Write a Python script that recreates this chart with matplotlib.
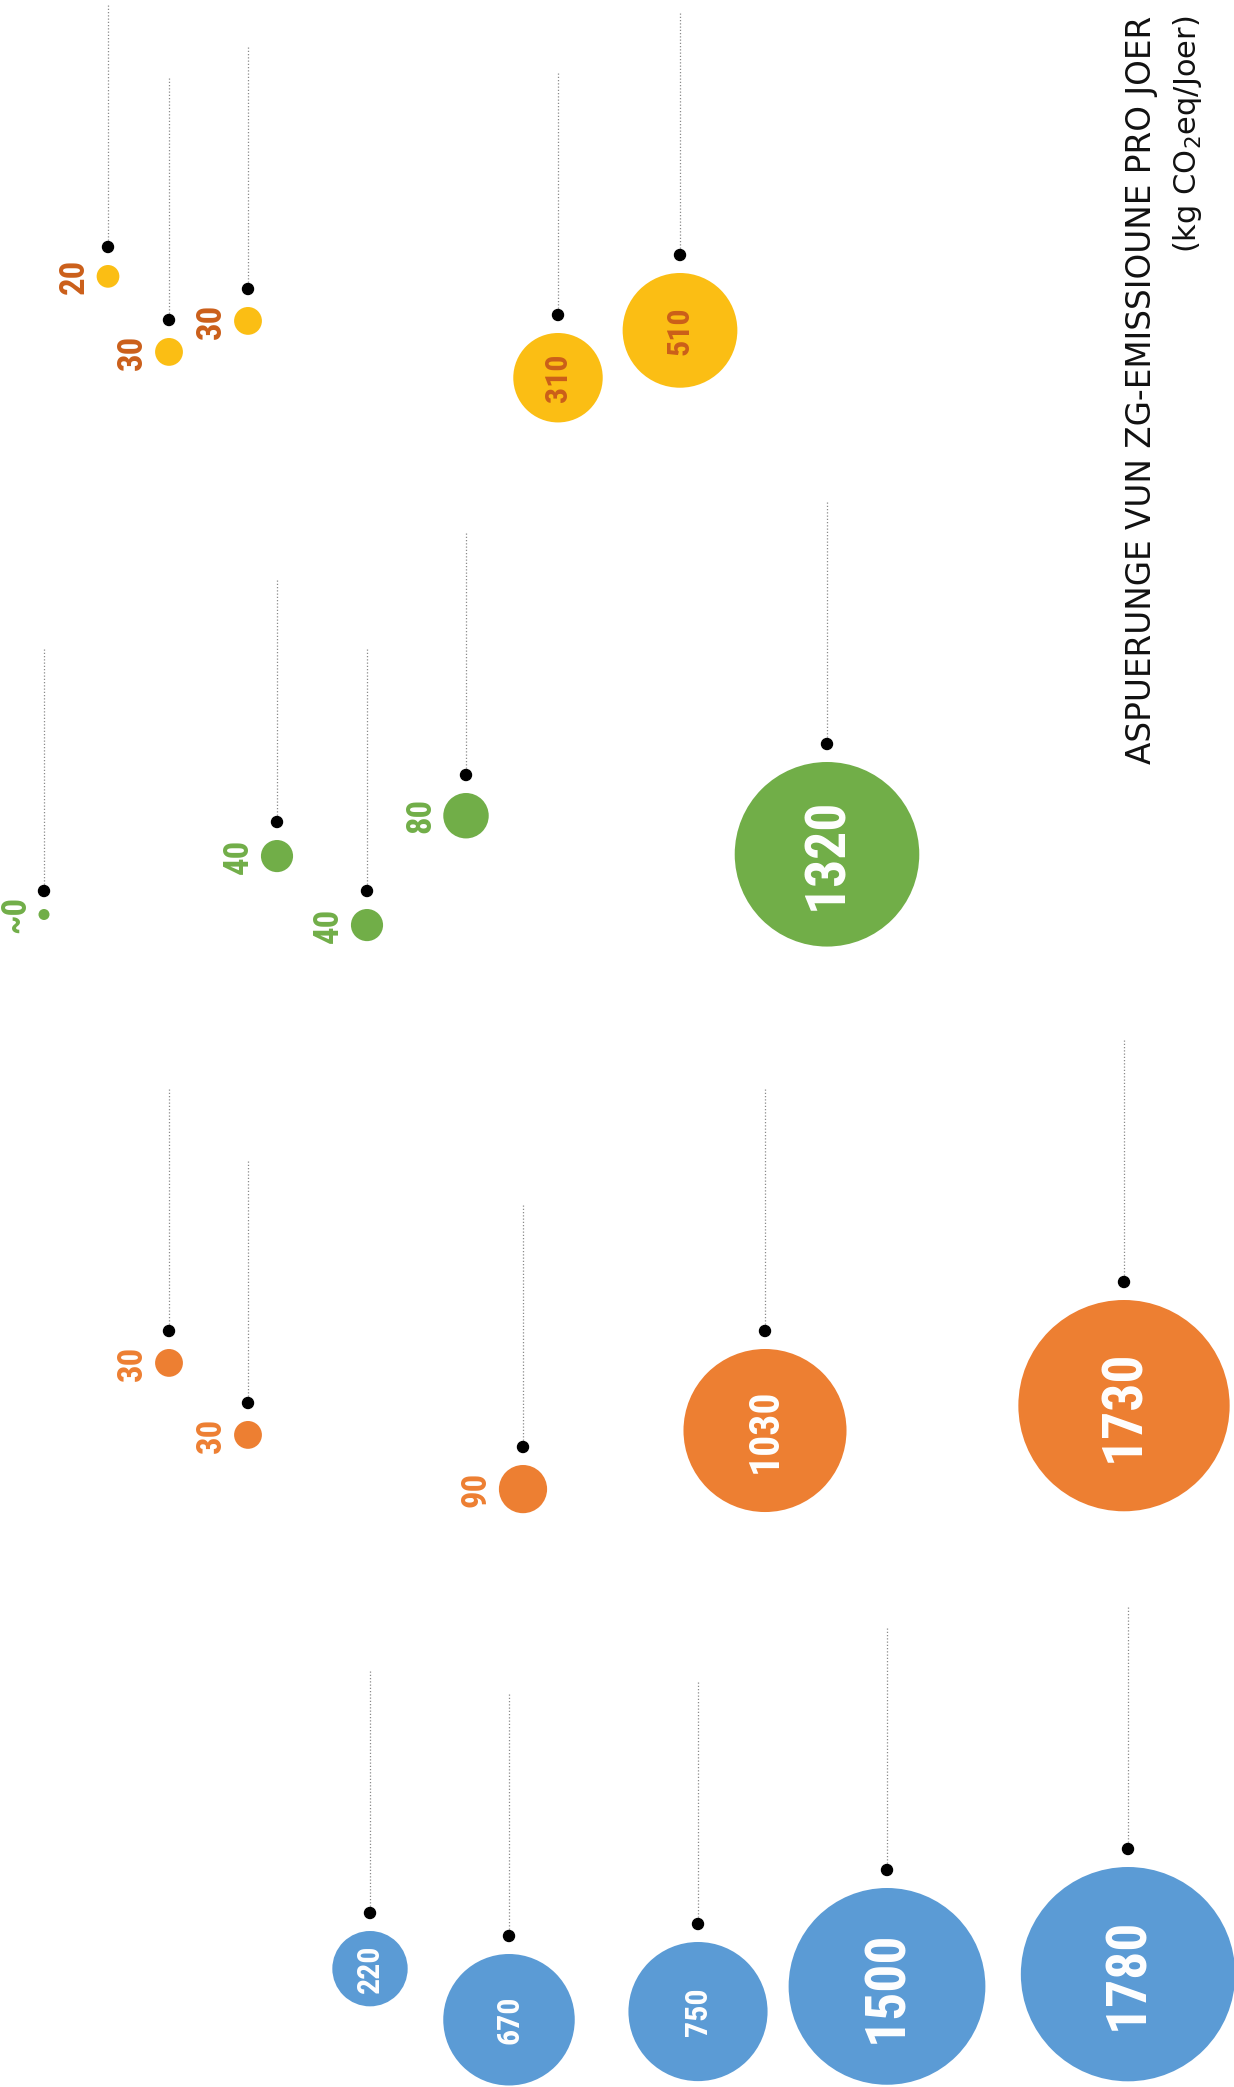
import numpy as np
import matplotlib.pyplot as plt
from matplotlib.patches import Circle
from matplotlib import font_manager

# --- data (kg CO2eq per year) ---
yellow_vals = [20, 30, 30, 310, 510]
green_vals = [0, 40, 40, 80, 1320]
green_labels = ["~0", "40", "40", "80", "1320"]
orange_vals = [30, 30, 90, 1030, 1730]
blue_vals = [220, 670, 750, 1500, 1780]

title = "ASPUERUNGE VUN ZG-EMISSIOUNE PRO JOER"
subtitle = r"(kg CO$_2$eq/Joer)"

# --- layout (canvas units = pixels) : where each ball hangs ---
yellow_x = [108, 169, 248, 558, 680]
yellow_hook = [247, 320, 289, 315, 255]
green_x = [44, 277, 367, 466, 827]
green_hook = [891, 822, 891, 775, 744]
orange_x = [169, 248, 523, 765, 1124]
orange_hook = [1331, 1403, 1447, 1331, 1282]
blue_x = [370, 509, 698, 887, 1128]
blue_hook = [1913, 1936, 1924, 1870, 1849]

string_len = 242
gap = 18
k = 2.54          # radius per sqrt(value)
r_min = 5.5

names = {f.name for f in font_manager.fontManager.ttflist}
label_font = "Roboto"
for cand in ["Liberation Sans Narrow", "Roboto Condensed", "Open Sans Condensed"]:
    if cand in names:
        label_font = cand
        break

groups = [
    # values, labels, x, hook, fill, outside label colour, inside label colour
    (yellow_vals, [str(v) for v in yellow_vals], yellow_x, yellow_hook, "#FBBE14", "#CB5F1A", "#CB5F1A"),
    (green_vals, green_labels, green_x, green_hook, "#71AE48", "#71AE48", "white"),
    (orange_vals, [str(v) for v in orange_vals], orange_x, orange_hook, "#ED7F32", "#ED7F32", "white"),
    (blue_vals, [str(v) for v in blue_vals], blue_x, blue_hook, "#5B9BD5", "#5B9BD5", "white"),
]

fig = plt.figure(figsize=(12.34, 20.87), dpi=100)
ax = fig.add_axes([0, 0, 1, 1])
ax.set_xlim(0, 1234)
ax.set_ylim(2087, 0)
ax.set_aspect("equal")
ax.axis("off")

for vals, labels, xs, hooks, fill, out_col, in_col in groups:
    for v, lab, x, h in zip(vals, labels, xs, hooks):
        r = max(k * np.sqrt(v), r_min)
        cy = h + gap + r
        # string + hook
        ax.plot([x, x], [h - string_len, h], color="#8a8a8a", lw=0.9,
                linestyle=(0, (1, 1.6)), zorder=1)
        ax.add_patch(Circle((x, h), 5.5, color="black", zorder=3))
        ax.add_patch(Circle((x, cy), r, color=fill, lw=0, zorder=2))
        if v >= 200:
            if v < 1000:
                fs = 23
            elif v < 1200:
                fs = 30
            else:
                fs = 40
            ax.text(x, cy, lab, rotation=90, ha="center", va="center",
                    fontsize=fs, fontweight="bold", family=label_font,
                    color=in_col, zorder=4)
        else:
            ax.text(x - r - 6, cy, lab, rotation=90, ha="right", va="center",
                    fontsize=25, fontweight="bold", family=label_font,
                    color=out_col, zorder=4)

ax.text(1142, 16, title, rotation=90, ha="center", va="top",
        fontsize=23.5, family="DejaVu Sans", color="#111111")
ax.text(1187, 16, subtitle, rotation=90, ha="center", va="top",
        fontsize=22, family="DejaVu Sans", color="#111111")

fig.savefig("out.png", dpi=100, facecolor="white")
